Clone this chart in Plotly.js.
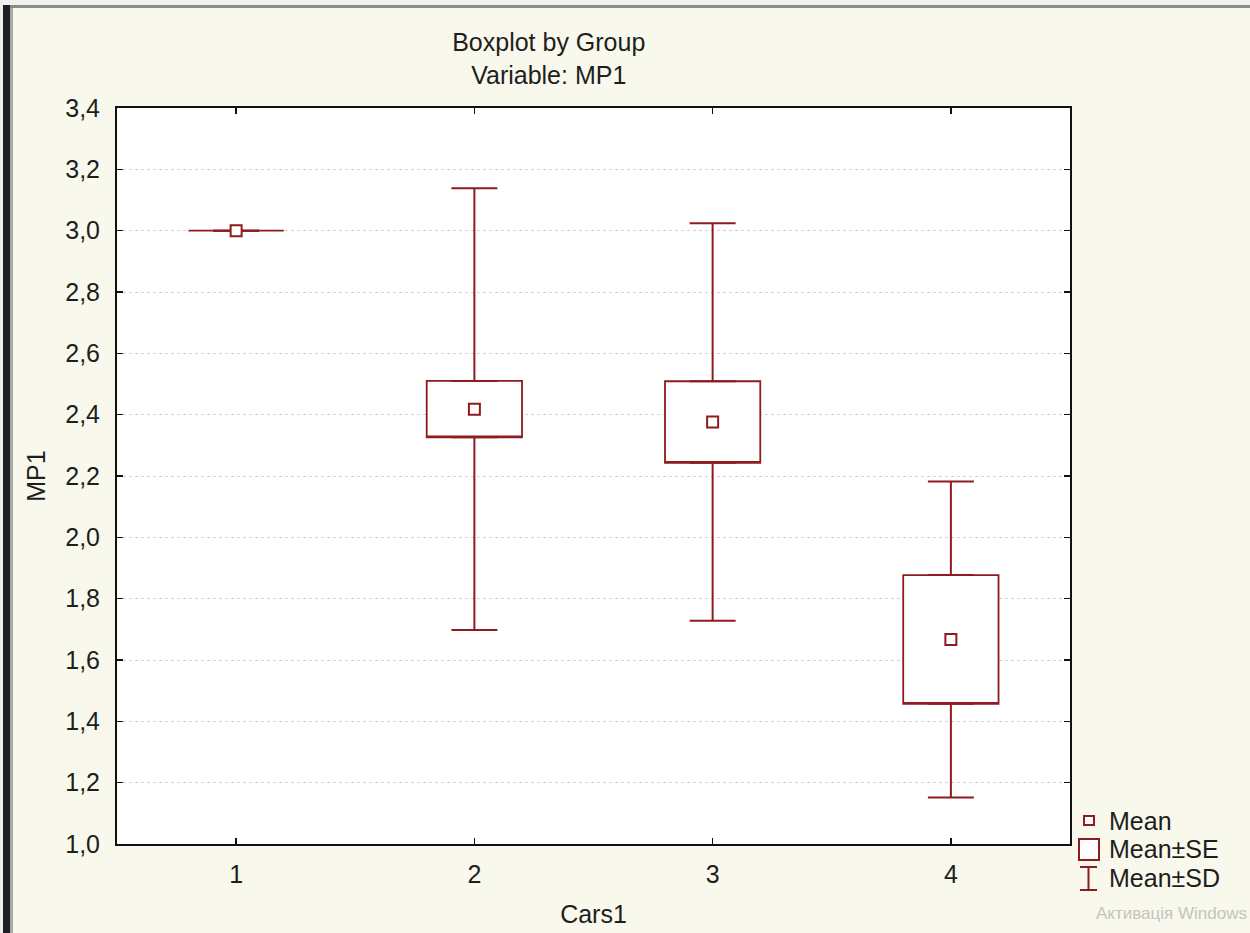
<!DOCTYPE html>
<html>
<head>
<meta charset="utf-8">
<script src="https://cdn.plot.ly/plotly-3.0.1.min.js"></script>
<style>
  html, body { margin: 0; padding: 0; background: #f9f8ec; }
  #wrap { position: relative; width: 1250px; height: 933px; overflow: hidden; }
  #chart { position: absolute; left: 0; top: 0; width: 1250px; height: 933px; }
  .deco { position: absolute; pointer-events: none; }
</style>
</head>
<body>
<div id="wrap">
  <div id="chart"></div>
  <div class="deco" style="left:0;top:0;width:1250px;height:5px;background:#f1f1f1;"></div>
  <div class="deco" style="left:10px;top:5px;width:1240px;height:3px;background:#8a8a8a;"></div>
  <div class="deco" style="left:0;top:0;width:3px;height:933px;background:#ececec;"></div>
  <div class="deco" style="left:3px;top:5px;width:7px;height:928px;background:#1e1e26;"></div>
  <div class="deco" style="left:10px;top:8px;width:3px;height:925px;background:#a9a9a3;"></div>
</div>
<script>
// ---- data ----
const categories = ['1', '2', '3', '4'];
const means = [3.000, 2.418, 2.376, 1.667];
const stdErr = [0.000, 0.092, 0.133, 0.210];
const stdDev = [0.000, 0.720, 0.648, 0.515];
const yTickVals = [1.0, 1.2, 1.4, 1.6, 1.8, 2.0, 2.2, 2.4, 2.6, 2.8, 3.0, 3.2, 3.4];
const legendLabels = ['Mean', 'Mean±SE', 'Mean±SD'];

const RED = '#8e1b1f';
const FONT = 'Liberation Sans, Arial, sans-serif';
const TXT = '#1e1e1e';
const FS = 25;

const seLow = means.map((m, i) => m - stdErr[i]);
const seHigh = means.map((m, i) => m + stdErr[i]);
const sdExtra = stdDev.map((s, i) => s - stdErr[i]);
const zeros = means.map(() => 0);

const traces = [
  { // Mean ± SE box
    type: 'box', name: legendLabels[1], x: categories,
    q1: seLow, median: seLow, q3: seHigh, lowerfence: seLow, upperfence: seHigh,
    width: 0.4, boxpoints: false, fillcolor: '#ffffff',
    line: { color: RED, width: 1.8 }, whiskerwidth: 0, showlegend: false, hoverinfo: 'skip'
  },
  { // upper SD whisker (from top of SE box)
    type: 'scatter', mode: 'markers', x: categories, y: seHigh,
    marker: { opacity: 0, size: 1 }, showlegend: false, hoverinfo: 'skip',
    error_y: { type: 'data', symmetric: false, array: sdExtra, arrayminus: zeros,
               color: RED, thickness: 2, width: 23 }
  },
  { // lower SD whisker (from bottom of SE box)
    type: 'scatter', mode: 'markers', x: categories, y: seLow,
    marker: { opacity: 0, size: 1 }, showlegend: false, hoverinfo: 'skip',
    error_y: { type: 'data', symmetric: false, array: zeros, arrayminus: sdExtra,
               color: RED, thickness: 2, width: 23 }
  },
  { // mean markers
    type: 'scatter', mode: 'markers', name: legendLabels[0], x: categories, y: means,
    marker: { symbol: 'square', size: 11, color: '#ffffff', line: { color: RED, width: 2 } },
    showlegend: false
  }
];

// manual legend (paper coordinates, plot area = 117..1070 x 108..844 px)
const px = x => (x - 117) / (1070 - 117);
const py = y => (844 - y) / (844 - 108);
const shapes = [
  { type: 'rect', xref: 'paper', yref: 'paper', x0: px(1084), x1: px(1094), y0: py(825), y1: py(816),
    line: { color: RED, width: 2 }, fillcolor: '#ffffff' },
  { type: 'rect', xref: 'paper', yref: 'paper', x0: px(1079), x1: px(1099), y0: py(860), y1: py(839),
    line: { color: RED, width: 2 }, fillcolor: '#ffffff' },
  { type: 'line', xref: 'paper', yref: 'paper', x0: px(1080), x1: px(1097), y0: py(867), y1: py(867),
    line: { color: RED, width: 2 } },
  { type: 'line', xref: 'paper', yref: 'paper', x0: px(1088.5), x1: px(1088.5), y0: py(867), y1: py(890),
    line: { color: RED, width: 2 } },
  { type: 'line', xref: 'paper', yref: 'paper', x0: px(1080), x1: px(1097), y0: py(890), y1: py(890),
    line: { color: RED, width: 2 } }
];
const legendY = [821, 849, 878];
const annotations = legendLabels.map((t, i) => ({
  text: t, xref: 'paper', yref: 'paper', x: px(1107), y: py(legendY[i]),
  xanchor: 'left', yanchor: 'middle', showarrow: false,
  font: { family: FONT, size: FS, color: TXT }
}));
annotations.push({
  text: 'Активація Windows', xref: 'paper', yref: 'paper', x: px(1094), y: py(913),
  xanchor: 'left', yanchor: 'middle', showarrow: false,
  font: { family: FONT, size: 17, color: '#c4c4c0' }
});

const layout = {
  width: 1250, height: 933,
  paper_bgcolor: '#f9f8ec', plot_bgcolor: '#ffffff',
  margin: { l: 117, r: 180, t: 108, b: 89 },
  separators: ', ',
  font: { family: FONT, size: FS, color: TXT },
  title: {
    text: 'Boxplot by Group<br>Variable: MP1',
    x: 0.439, xanchor: 'center', xref: 'container',
    y: 0.945, yanchor: 'top', yref: 'container',
    font: { family: FONT, size: FS, color: TXT }
  },
  showlegend: false,
  xaxis: {
    type: 'category', range: [-0.5, 3.5],
    title: { text: 'Cars1', standoff: 18, font: { family: FONT, size: FS, color: TXT } },
    showline: true, linecolor: '#111111', linewidth: 2, mirror: 'ticks',
    ticks: 'inside', ticklen: 6, tickwidth: 1.5, tickcolor: '#111111',
    showgrid: false, zeroline: false, ticklabelstandoff: 7,
    tickfont: { family: FONT, size: FS, color: TXT }
  },
  yaxis: {
    range: [1.0, 3.4], tickvals: yTickVals, tickformat: '.1f',
    title: { text: 'MP1', standoff: 12, font: { family: FONT, size: FS, color: TXT } },
    showline: true, linecolor: '#111111', linewidth: 2, mirror: 'ticks',
    ticks: 'inside', ticklen: 6, tickwidth: 1.5, tickcolor: '#111111',
    showgrid: true, gridcolor: '#d2d2d2', griddash: 'dot', gridwidth: 1,
    zeroline: false, ticklabelstandoff: 10,
    tickfont: { family: FONT, size: FS, color: TXT }
  },
  shapes: shapes,
  annotations: annotations
};

Plotly.newPlot('chart', traces, layout, { staticPlot: true, displayModeBar: false });
</script>
</body>
</html>
